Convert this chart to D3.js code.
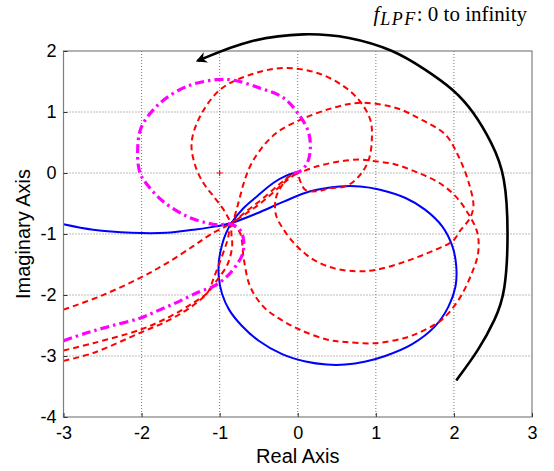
<!DOCTYPE html>
<html>
<head>
<meta charset="utf-8">
<script src="https://cdn.jsdelivr.net/npm/d3@7/dist/d3.min.js"></script>
<style>
  body { margin: 0; background: #fff; }
  svg { display: block; }
</style>
</head>
<body>
<div id="chart"></div>
<script>
const realTicks = [-3, -2, -1, 0, 1, 2, 3];
const imagTicks = [-4, -3, -2, -1, 0, 1, 2];

// Nyquist curves, [real, imag]
const blueCurve = [
  [-3, -0.84], [-2.62, -0.93], [-2.13, -0.98], [-1.68, -0.98], [-1.34, -0.93], [-1.04, -0.875],
  [-0.85, -0.82], [-0.52, -0.66], [-0.18, -0.47], [0.16, -0.30], [0.54, -0.22], [0.8, -0.22],
  [1.04, -0.27], [1.38, -0.41], [1.63, -0.60], [1.85, -0.875], [1.98, -1.20], [2.03, -1.53],
  [2.02, -1.86], [1.93, -2.19], [1.76, -2.51], [1.46, -2.81], [1.12, -3.00], [0.87, -3.09],
  [0.61, -3.14], [0.37, -3.14], [0.1, -3.09], [-0.2, -2.97], [-0.5, -2.75], [-0.72, -2.50],
  [-0.88, -2.24], [-0.97, -1.98], [-1.01, -1.72], [-1.01, -1.45], [-0.97, -1.18], [-0.92, -0.99],
  [-0.85, -0.82], [-0.69, -0.57], [-0.52, -0.38], [-0.31, -0.16], [-0.14, -0.04], [-0.05, 0]
];
const magentaCurve = [
  [-3, -2.75], [-2.70, -2.62], [-2.40, -2.51], [-2.02, -2.38], [-1.76, -2.24], [-1.51, -2.10],
  [-1.25, -1.94], [-1.08, -1.86], [-0.91, -1.70], [-0.78, -1.50], [-0.71, -1.34], [-0.69, -1.15],
  [-0.73, -0.95], [-0.85, -0.84], [-1.02, -0.85], [-1.16, -0.82], [-1.42, -0.71], [-1.72, -0.47],
  [-1.91, -0.22], [-2.02, 0], [-2.05, 0.38], [-2.0, 0.76], [-1.76, 1.15], [-1.42, 1.42],
  [-1.04, 1.53], [-0.82, 1.52], [-0.48, 1.39], [-0.18, 1.23], [0.03, 0.93], [0.14, 0.66],
  [0.16, 0.38], [0.12, 0.16], [0.03, 0.03], [-0.05, 0]
];
const redCurveA = [
  [-3, -2.24], [-2.53, -2.02], [-2.02, -1.72], [-1.68, -1.48], [-1.34, -1.20], [-1.12, -1.01],
  [-0.85, -0.82], [-0.65, -0.62], [-0.45, -0.42], [-0.25, -0.2], [-0.1, -0.05], [0.03, 0.01],
  [0.25, 0.11], [0.54, 0.19], [0.8, 0.22], [0.95, 0.20], [1.25, 0.14], [1.55, 0.0], [1.81, -0.16],
  [2.02, -0.38], [2.18, -0.66], [2.30, -0.98], [2.31, -1.31], [2.23, -1.64], [2.06, -2.08],
  [1.85, -2.40], [1.63, -2.57], [1.38, -2.70], [0.99, -2.79], [0.61, -2.77], [0.37, -2.73],
  [0.03, -2.57], [-0.22, -2.40], [-0.44, -2.19], [-0.61, -1.86], [-0.69, -1.42], [-0.74, -0.98],
  [-0.85, -0.82], [-0.95, -0.60], [-1.08, -0.38], [-1.21, -0.16], [-1.31, 0.11], [-1.36, 0.49],
  [-1.25, 0.93], [-0.99, 1.37], [-0.61, 1.61], [-0.18, 1.72], [0.25, 1.64], [0.59, 1.42],
  [0.80, 1.17], [0.93, 0.87], [0.95, 0.60], [0.91, 0.22], [0.78, -0.06], [0.61, -0.22],
  [0.41, -0.25], [0.24, -0.30], [0.09, -0.27], [0, 0]
];
const redCurveB = [
  [-3, -2.91], [-2.62, -2.79], [-2.02, -2.57], [-1.63, -2.35], [-1.34, -2.13], [-1.16, -1.97],
  [-1.03, -1.75], [-0.9, -1.5], [-0.84, -1.2], [-0.85, -0.95], [-0.82, -0.77], [-0.76, -0.49],
  [-0.69, -0.16], [-0.61, 0.11], [-0.48, 0.38], [-0.27, 0.66], [0.03, 0.87], [0.46, 1.07],
  [0.8, 1.15], [1.25, 1.07], [1.59, 0.87], [1.89, 0.63], [2.06, 0.27], [2.19, -0.16],
  [2.25, -0.55], [2.2, -0.75], [2.09, -0.93], [1.98, -1.12], [1.76, -1.26], [1.38, -1.45],
  [0.99, -1.59], [0.74, -1.61], [0.46, -1.56], [0.2, -1.42], [-0.01, -1.2], [-0.18, -0.93],
  [-0.28, -0.68], [-0.28, -0.41], [-0.21, -0.22], [-0.1, -0.04], [0, 0]
];
const redCurveC = [
  [-3, -3.08], [-2.62, -2.95], [-2.02, -2.62], [-1.63, -2.40], [-1.34, -2.17], [-1.15, -1.95],
  [-1.07, -1.7], [-0.98, -1.4], [-0.9, -1.1], [-0.85, -0.85], [-0.68, -0.68], [-0.48, -0.5],
  [-0.28, -0.28], [-0.1, -0.08], [0, 0]
];
const criticalPoint = [[-1, 0]];
// sweep arrow for f_LPF, drawn in data units
const sweepArrow = [
  [2.03, -3.40], [2.32, -2.90], [2.53, -2.40], [2.66, -1.97], [2.70, -1.0], [2.66, -0.03],
  [2.49, 0.49], [2.25, 1.01], [2.0, 1.37], [1.63, 1.70], [1.23, 2.02], [0.65, 2.24],
  [0.1, 2.30], [-0.61, 2.20], [-1.28, 1.84]
];

const W = 554, H = 471;
const margin = { top: 51, right: 22, bottom: 54, left: 63.5 };

const svg = d3.select('#chart').append('svg')
  .attr('width', W).attr('height', H)
  .attr('font-family', 'Liberation Sans, Arial, Helvetica, sans-serif');

const x = d3.scaleLinear().domain([-3, 3]).range([margin.left, W - margin.right]);
const y = d3.scaleLinear().domain([-4, 2]).range([H - margin.bottom, margin.top]);

svg.append('defs').append('clipPath').attr('id', 'plotclip')
  .append('rect')
  .attr('x', x(-3)).attr('y', y(2))
  .attr('width', x(3) - x(-3)).attr('height', y(-4) - y(2));

// dotted grid
const grid = svg.append('g');
grid.selectAll('.gx').data(realTicks.slice(1, -1)).join('line')
  .attr('x1', d => x(d)).attr('x2', d => x(d))
  .attr('y1', y(2)).attr('y2', y(-4))
  .attr('stroke', '#555').attr('stroke-width', 0.8).attr('stroke-dasharray', '1,2');
grid.selectAll('.gy').data(imagTicks.slice(1, -1)).join('line')
  .attr('y1', d => y(d)).attr('y2', d => y(d))
  .attr('x1', x(-3)).attr('x2', x(3))
  .attr('stroke', '#555').attr('stroke-width', 0.8).attr('stroke-dasharray', '1,2');

const line = d3.line().x(d => x(d[0])).y(d => y(d[1])).curve(d3.curveCatmullRom.alpha(0.5));
const smooth = d3.line().x(d => x(d[0])).y(d => y(d[1])).curve(d3.curveBasis);

const curves = svg.append('g').attr('clip-path', 'url(#plotclip)').attr('fill', 'none');
curves.append('path').attr('d', line(blueCurve))
  .attr('stroke', '#0000ff').attr('stroke-width', 2);
[redCurveA, redCurveB, redCurveC].forEach(c => {
  curves.append('path').attr('d', line(c))
    .attr('stroke', '#ff0000').attr('stroke-width', 2).attr('stroke-dasharray', '6,4');
});
curves.append('path').attr('d', line(magentaCurve))
  .attr('stroke', '#ff00ff').attr('stroke-width', 3.2).attr('stroke-dasharray', '9,4,2.5,4');

// critical point marker
curves.selectAll('.crit').data(criticalPoint).join('path')
  .attr('d', d => `M${x(d[0]) - 3},${y(d[1])}H${x(d[0]) + 3}M${x(d[0])},${y(d[1]) - 3}V${y(d[1]) + 3}`)
  .attr('stroke', '#ff0000').attr('stroke-width', 1);

// axes box and inner ticks
const axisColor = '#7f7f7f';
svg.append('rect')
  .attr('x', x(-3)).attr('y', y(2))
  .attr('width', x(3) - x(-3)).attr('height', y(-4) - y(2))
  .attr('fill', 'none').attr('stroke', axisColor).attr('stroke-width', 1.2);

const xAxis = svg.append('g').attr('transform', `translate(0,${y(-4)})`)
  .call(d3.axisBottom(x).tickValues(realTicks).tickSize(-4).tickPadding(9).tickFormat(d3.format('d')));
const yAxis = svg.append('g').attr('transform', `translate(${x(-3)},0)`)
  .call(d3.axisLeft(y).tickValues(imagTicks).tickSize(-4).tickPadding(7).tickFormat(d3.format('d')));
[xAxis, yAxis].forEach(a => {
  a.select('.domain').remove();
  a.selectAll('.tick line').attr('stroke', '#333');
  a.selectAll('.tick text').attr('fill', '#000').attr('font-size', 18)
    .attr('font-family', 'Liberation Sans, Arial, sans-serif')
    .text(d => d < 0 ? '-' + Math.abs(d) : d);
});

svg.append('text')
  .attr('x', x(0)).attr('y', 463)
  .attr('text-anchor', 'middle').attr('font-size', 20)
  .text('Real Axis');
svg.append('text')
  .attr('transform', `translate(30,${(y(2) + y(-4)) / 2}) rotate(-90)`)
  .attr('text-anchor', 'middle').attr('font-size', 20)
  .text('Imaginary Axis');

// sweep arrow
svg.select('defs').append('marker')
  .attr('id', 'head').attr('viewBox', '0 0 10 10')
  .attr('refX', 8).attr('refY', 5)
  .attr('markerWidth', 14).attr('markerHeight', 11)
  .attr('markerUnits', 'userSpaceOnUse').attr('orient', 'auto')
  .append('path').attr('d', 'M0,0 L10,5 L0,10 L3,5 Z').attr('fill', '#000');

svg.append('path').attr('d', smooth(sweepArrow))
  .attr('fill', 'none').attr('stroke', '#000').attr('stroke-width', 2.6)
  .attr('marker-end', 'url(#head)');

const title = svg.append('text')
  .attr('x', 527).attr('y', 21)
  .attr('text-anchor', 'end')
  .attr('font-family', 'Liberation Serif, Times New Roman, serif')
  .attr('font-size', 21);
title.append('tspan').attr('font-style', 'italic').text('f');
title.append('tspan').attr('font-style', 'italic').attr('font-size', 18)
  .attr('letter-spacing', 1.5).attr('dx', 1).attr('dy', 4).text('LPF');
title.append('tspan').attr('dy', -4).attr('letter-spacing', 0).text(': 0 to infinity');
</script>
</body>
</html>
